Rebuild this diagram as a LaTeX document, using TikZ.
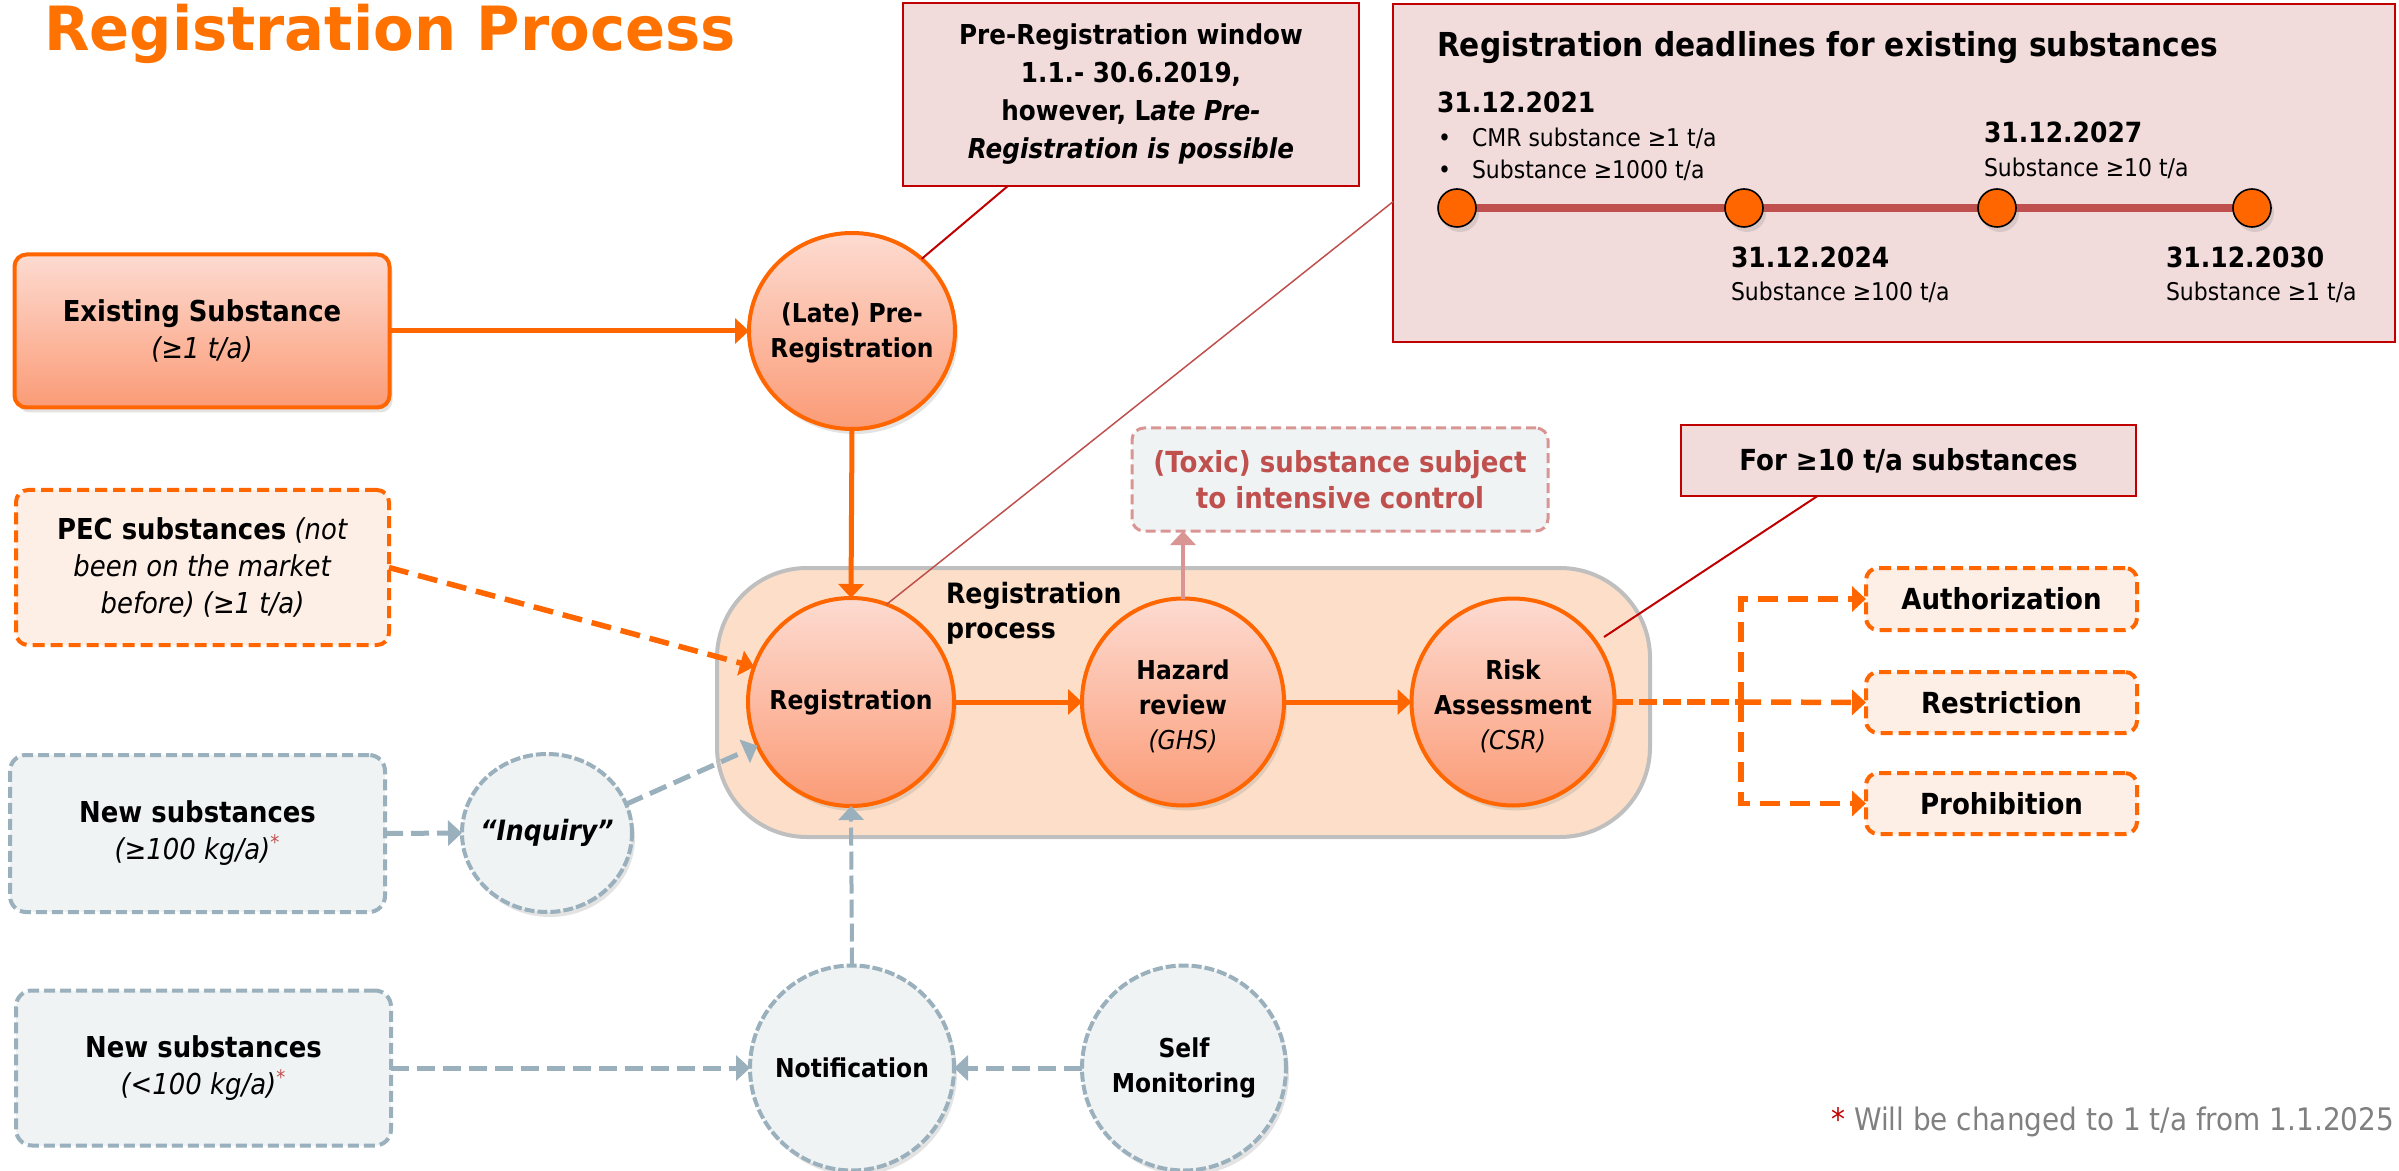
\documentclass[tikz,border=0pt]{standalone}
\usepackage{fontspec}
\setmainfont{DejaVu Sans}[FakeStretch=0.9]
\newfontfamily\titlefont{DejaVu Sans}[FakeStretch=0.97]
\usetikzlibrary{shapes.geometric,shadows,arrows.meta,calc}
\definecolor{orng}{HTML}{FF6600}
\definecolor{ttl}{HTML}{FF7200}
\definecolor{gtop}{HTML}{FDDBD1}
\definecolor{gbot}{HTML}{FB9B76}
\definecolor{cont}{HTML}{FDDFC9}
\definecolor{contb}{HTML}{BFBFBF}
\definecolor{peach}{HTML}{FDEEE6}
\definecolor{gfill}{HTML}{EFF3F4}
\definecolor{gblue}{HTML}{9AB0BC}
\definecolor{dred}{HTML}{C00000}
\definecolor{pinkf}{HTML}{F2DCDB}
\definecolor{tred}{HTML}{C0504D}
\definecolor{tpink}{HTML}{D99594}
\definecolor{fgray}{HTML}{808080}
\newcommand{\fs}[2]{\fontsize{#1}{#2}\selectfont}
\begin{document}
\begin{tikzpicture}[x=0.5pt,y=-0.5pt,
  every node/.style={inner sep=0pt, outer sep=0pt},
  shd/.style={drop shadow={shadow xshift=1.5pt, shadow yshift=-2.5pt, opacity=0.22}},
  obox/.style={draw=orng, line width=2pt, rounded corners=6pt, top color=gtop, bottom color=gbot, shd, align=center},
  ocirc/.style={ellipse, draw=orng, line width=2pt, top color=gtop, bottom color=gbot, shd},
  odbox/.style={draw=orng, line width=2pt, dash pattern=on 6pt off 3pt, rounded corners=6pt, fill=peach, align=center},
  gdbox/.style={draw=gblue, line width=2pt, dash pattern=on 5.5pt off 2.5pt, rounded corners=8pt, fill=gfill, align=center},
  gcirc/.style={ellipse, draw=gblue, line width=2pt, dash pattern=on 5pt off 1.5pt, fill=gfill, shd},
  rbox/.style={draw=dred, line width=1.1pt, fill=pinkf, align=center},
  tbox/.style={draw=tpink, line width=1.5pt, dash pattern=on 5pt off 2.5pt, rounded corners=6pt, fill=gfill, align=center},
  ctext/.style={align=center, font=\bfseries\fs{13}{17.5}},
  tip/.style={-{Triangle[length=7pt,width=12.5pt]}},
  oarr/.style={draw=orng, line width=2.5pt, tip},
  odarr/.style={draw=orng, line width=2.75pt, dash pattern=on 10pt off 5pt, tip},
  obr/.style={draw=orng, line width=2.75pt, dash pattern=on 9pt off 3pt},
  garr/.style={draw=gblue, line width=2.5pt, dash pattern=on 9pt off 4pt, tip},
  callout/.style={draw=dred, line width=1pt},
  tline/.style={draw=tred, line width=4pt},
  dot/.style={circle, minimum size=19pt, fill=orng, draw=black, line width=0.8pt, shd},
  date/.style={anchor=base west, font=\bfseries\fs{13.9}{16}},
  sub/.style={anchor=base west, font=\fs{12.2}{14}},
  btext/.style={font=\bfseries\fs{14.5}{18}}
]
\useasboundingbox (0,0) rectangle (2399,1171);

% title
\node[anchor=base west, font=\titlefont\bfseries\fs{30.5}{34}, text=ttl] (title) at (44,51) {Registration Process};

% container
\node[draw=contb, line width=2pt, fill=cont, rounded corners=45pt, minimum width=466.5pt, minimum height=134.5pt] (cont) at (1183.5,702.5) {};
\node[anchor=north west, align=left, font=\bfseries\fs{14}{17.5}] (rplabel) at (946,582) {Registration\\process};

% main nodes
\node[obox, minimum width=187.5pt, minimum height=76.5pt, font=\fs{14.4}{18.5}] (exist) at (202,331) {\textbf{Existing Substance}\\\textit{(≥1 t/a)}};
\node[ocirc, minimum width=103pt, minimum height=98pt] (prereg) at (852,331) {};
\node[ctext] (prereg-t) at (852,333) {(Late) Pre-\\Registration};

\node[ocirc, minimum width=103pt, minimum height=104pt] (reg) at (851,702) {};
\node[ctext] (reg-t) at (851,702) {Registration};
\node[ocirc, minimum width=101pt, minimum height=103.5pt] (hazard) at (1183,702) {};
\node[ctext] (hazard-t) at (1183,706) {Hazard\\review\\\textit{\mdseries (GHS)}};
\node[ocirc, minimum width=101.5pt, minimum height=103.5pt] (risk) at (1513,702) {};
\node[ctext] (risk-t) at (1513,706) {Risk\\Assessment\\\textit{\mdseries (CSR)}};

\node[odbox, minimum width=186.5pt, minimum height=77.5pt, font=\fs{14.4}{18.3}] (pec) at (202.5,567.5) {\textbf{PEC substances} \textit{(not}\\\textit{been on the market}\\\textit{before) (≥1 t/a)}};

\node[gdbox, minimum width=187.5pt, minimum height=78.5pt, font=\fs{14.4}{18.5}] (new1) at (197.5,833.5) {\textbf{New substances}\\\textit{(≥100 kg/a)}\textsuperscript{\textcolor{tred}{*}}};
\node[gcirc, minimum width=85pt, minimum height=79pt] (inq) at (547,833) {};
\node[ctext, font=\bfseries\itshape\fs{14}{17}] (inq-t) at (547,833) {“Inquiry”};

\node[gdbox, minimum width=187.5pt, minimum height=77.5pt, font=\fs{14.4}{18.5}] (new2) at (203.5,1068) {\textbf{New substances}\\\textit{(<100 kg/a)}\textsuperscript{\textcolor{tred}{*}}};
\node[gcirc, minimum width=102pt, minimum height=102.5pt] (notif) at (852,1068) {};
\node[ctext] (notif-t) at (852,1068) {Notification};
\node[gcirc, minimum width=102pt, minimum height=102.5pt] (self) at (1184,1068) {};
\node[ctext] (self-t) at (1184,1068) {Self\\Monitoring};

\node[tbox, minimum width=208pt, minimum height=51.5pt, btext, text=tred] (toxic) at (1340,479.5) {(Toxic) substance subject\\to intensive control};
\node[rbox, minimum width=227.5pt, minimum height=35.5pt, btext] (for10) at (1908.5,460.5) {For ≥10 t/a substances};

\node[odbox, minimum width=135.5pt, minimum height=31pt, btext] (auth) at (2001.5,599) {Authorization};
\node[odbox, minimum width=135.5pt, minimum height=30.5pt, btext] (restr) at (2001.5,702.5) {Restriction};
\node[odbox, minimum width=135.5pt, minimum height=30.5pt, btext] (prohib) at (2001.5,803.5) {Prohibition};

% pre-registration window
\node[rbox, minimum width=228pt, minimum height=91.5pt, font=\bfseries\fs{13.7}{19}] (prewin) at (1131,94.5) {Pre-Registration window\\1.1.- 30.6.2019,\\however, L\textit{ate Pre-}\\\textit{Registration is possible}};

% deadlines box
\node[rbox, minimum width=501pt, minimum height=169pt] (deadl) at (1894,173) {};
\node[anchor=base west, font=\bfseries\fs{16.5}{19}] (dtitle) at (1437,57) {Registration deadlines for existing substances};
\coordinate (t1) at (1457,208);
\coordinate (t4) at (2252,208);
\draw[tline] (t1) -- (t4);
\node[dot] (d1) at (t1) {};
\node[dot] (d2) at (1744,208) {};
\node[dot] (d3) at (1997,208) {};
\node[dot] (d4) at (t4) {};
\node[date] (y21) at (1437,113) {31.12.2021};
\node[sub] (b1) at (1438,147) {•};
\node[sub] (s21a) at (1472,147) {CMR substance ≥1 t/a};
\node[sub] (b2) at (1438,179) {•};
\node[sub] (s21b) at (1472,179) {Substance ≥1000 t/a};
\node[date] (y27) at (1984,143) {31.12.2027};
\node[sub] (s27) at (1984,177) {Substance ≥10 t/a};
\node[date] (y24) at (1731,268) {31.12.2024};
\node[sub] (s24) at (1731,301) {Substance ≥100 t/a};
\node[date] (y30) at (2166,268) {31.12.2030};
\node[sub] (s30) at (2166,301) {Substance ≥1 t/a};

% footnote
\node[anchor=base east, font=\fs{15.5}{18}, text=fgray] (foot) at (2394,1130) {\textcolor{dred}{*} Will be changed to 1 t/a from 1.1.2025};

% connectors
\draw[oarr] (exist.east) -- (prereg.west);
\draw[oarr] (prereg.south) -- (reg.north);
\draw[oarr] (reg.east) -- (hazard.west);
\draw[oarr] (hazard.east) -- (risk.west);
\draw[draw=tpink, line width=2pt, tip] (hazard.north) -- (hazard.north |- toxic.south);
\draw[odarr] (pec.east) -- (reg.160);
\draw[garr] (new1.east) -- (inq.west);
\draw[garr] (inq.20) -- (reg.205);
\draw[garr] (new2.east) -- (notif.west);
\draw[garr] (self.west) -- (notif.east);
\draw[draw=gblue, line width=2pt, dash pattern=on 9pt off 3pt, tip] (notif.north) -- (reg.south);

\coordinate (br) at (1741,702);
\draw[obr] (risk.east) -- (br);
\draw[odarr] (br) -- (restr.west);
\draw[odarr] (br) |- (auth.west);
\draw[odarr] (br) |- (prohib.west);

\draw[callout] ($(prewin.south west)!0.23!(prewin.south east)$) -- (prereg.46);
\draw[draw=tred, line width=0.75pt] ($(deadl.north west)!0.585!(deadl.south west)$) -- (reg.70);
\coordinate (c10) at (1604,637);
\draw[callout] ($(for10.south west)!0.3!(for10.south east)$) -- (c10);
\end{tikzpicture}
\end{document}
